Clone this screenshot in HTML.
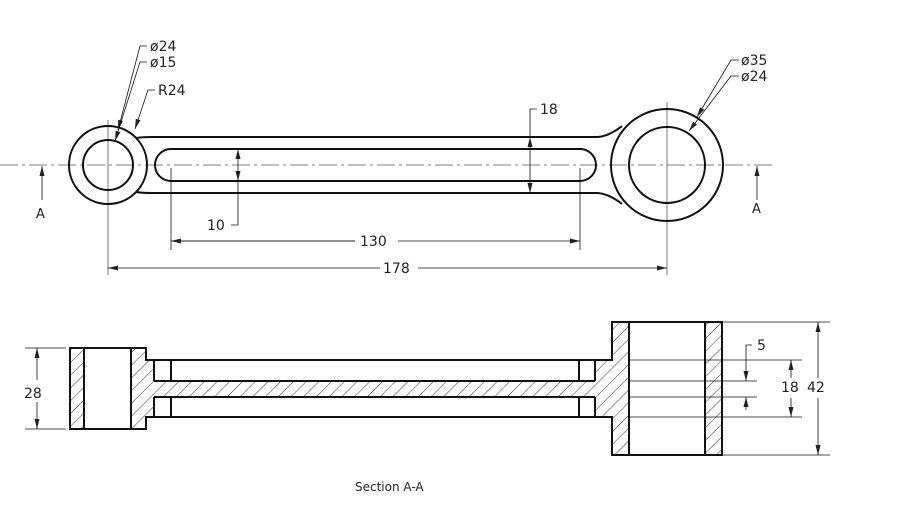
<!DOCTYPE html>
<html><head><meta charset="utf-8"><style>
html,body{margin:0;padding:0;background:#fff;}
svg{display:block;}
text{font-family:"DejaVu Sans","Liberation Sans",sans-serif;font-size:14px;fill:#222;}
</style></head><body>
<svg width="913" height="509" viewBox="0 0 913 509" xmlns="http://www.w3.org/2000/svg">
<defs>
<pattern id="h" patternUnits="userSpaceOnUse" width="9" height="9" patternTransform="rotate(45)">
<line x1="0" y1="0" x2="0" y2="9" stroke="#333" stroke-width="1"/>
</pattern>
<marker id="ar" markerWidth="10" markerHeight="6" refX="10" refY="3" orient="auto" markerUnits="userSpaceOnUse"><path d="M0,0.5 L10,3 L0,5.5 z" fill="#222"/></marker>
</defs>
<g fill="none" stroke="#111">
<!-- centerlines -->
<line x1="0" y1="165" x2="772" y2="165" stroke="#555" stroke-width="0.8" stroke-dasharray="18,4,3,4"/>
<line x1="108" y1="120" x2="108" y2="275" stroke="#555" stroke-width="0.8"/>
<line x1="667" y1="102" x2="667" y2="275" stroke="#555" stroke-width="0.8"/>
<!-- left boss -->
<circle cx="108" cy="165" r="39" stroke-width="2"/>
<circle cx="108" cy="165" r="25" stroke-width="2"/>
<!-- right boss -->
<circle cx="667" cy="165" r="56" stroke-width="2"/>
<circle cx="667" cy="165" r="38" stroke-width="2"/>
<!-- arm -->
<path d="M136,138 Q142,137 152,137 L596,137 Q608,137 622,126" stroke-width="2"/>
<path d="M136,192 Q142,193 152,193 L596,193 Q608,193 622,204" stroke-width="2"/>
<path d="M171,149 L580,149 A16,16 0 0 1 580,181 L171,181 A16,16 0 0 1 171,149 z" stroke-width="2"/>
<!-- extension lines -->
<line x1="171" y1="168" x2="171" y2="250" stroke-width="0.8"/>
<line x1="580" y1="168" x2="580" y2="250" stroke-width="0.8"/>
<!-- dims -->
<line x1="181" y1="241" x2="355" y2="241" stroke-width="0.8"/>
<line x1="355" y1="241" x2="171" y2="241" stroke-width="0.8" marker-end="url(#ar)"/>
<line x1="398" y1="241" x2="580" y2="241" stroke-width="0.8" marker-end="url(#ar)"/>
<line x1="380" y1="268" x2="108" y2="268" stroke-width="0.8" marker-end="url(#ar)"/>
<line x1="418" y1="268" x2="667" y2="268" stroke-width="0.8" marker-end="url(#ar)"/>
<!-- 10 -->
<line x1="238" y1="165" x2="238" y2="149" stroke-width="0.8" marker-end="url(#ar)"/>
<line x1="238" y1="165" x2="238" y2="181" stroke-width="0.8" marker-end="url(#ar)"/>
<polyline points="238,181 238,225 231,225" stroke-width="0.8"/>
<!-- 18 -->
<line x1="530" y1="165" x2="530" y2="137" stroke-width="0.8" marker-end="url(#ar)"/>
<line x1="530" y1="165" x2="530" y2="193" stroke-width="0.8" marker-end="url(#ar)"/>
<polyline points="530,137 530,109 537,109" stroke-width="0.8"/>
<!-- A arrows -->
<line x1="42" y1="200" x2="42" y2="166" stroke-width="0.8" marker-end="url(#ar)"/>
<line x1="757" y1="200" x2="757" y2="166" stroke-width="0.8" marker-end="url(#ar)"/>
<!-- leaders -->
<polyline points="147,46 140,46 118,130" stroke-width="0.8" marker-end="url(#ar)"/>
<polyline points="147,62 140,62 115,141" stroke-width="0.8" marker-end="url(#ar)"/>
<polyline points="155,90 148,90 135,129" stroke-width="0.8" marker-end="url(#ar)"/>
<polyline points="739,60 731,60 697,117" stroke-width="0.8" marker-end="url(#ar)"/>
<polyline points="739,76 731,76 689,131" stroke-width="0.8" marker-end="url(#ar)"/>

<!-- SECTION -->
<rect x="70" y="348" width="14" height="81" fill="url(#h)" stroke="none"/>
<path d="M131,348 L146,348 L146,360 L154,360 L154,381 L595,381 L595,360 L612,360 L612,322 L629,322 L629,455 L612,455 L612,417 L595,417 L595,397 L154,397 L154,417 L146,417 L146,429 L131,429 z" fill="url(#h)" stroke="none"/>
<rect x="705" y="322" width="17" height="133" fill="url(#h)" stroke="none"/>
<path d="M70,348 L146,348 L146,360 L154,360 L595,360 L612,360 L612,322 L722,322 L722,455 L612,455 L612,417 L154,417 L146,417 L146,429 L70,429 z" stroke-width="2"/>
<line x1="84" y1="348" x2="84" y2="429" stroke-width="2"/>
<line x1="131" y1="348" x2="131" y2="429" stroke-width="2"/>
<line x1="629" y1="322" x2="629" y2="455" stroke-width="2"/>
<line x1="705" y1="322" x2="705" y2="455" stroke-width="2"/>
<line x1="154" y1="381" x2="595" y2="381" stroke-width="2"/>
<line x1="154" y1="397" x2="595" y2="397" stroke-width="2"/>
<line x1="154" y1="360" x2="154" y2="381" stroke-width="2"/>
<line x1="154" y1="397" x2="154" y2="417" stroke-width="2"/>
<line x1="171" y1="360" x2="171" y2="381" stroke-width="2"/>
<line x1="171" y1="397" x2="171" y2="417" stroke-width="2"/>
<line x1="579" y1="360" x2="579" y2="381" stroke-width="2"/>
<line x1="579" y1="397" x2="579" y2="417" stroke-width="2"/>
<line x1="595" y1="360" x2="595" y2="381" stroke-width="2"/>
<line x1="595" y1="397" x2="595" y2="417" stroke-width="2"/>
<!-- section dims -->
<line x1="25" y1="348" x2="66" y2="348" stroke-width="0.8"/>
<line x1="25" y1="429" x2="66" y2="429" stroke-width="0.8"/>
<line x1="37" y1="380" x2="37" y2="348" stroke-width="0.8" marker-end="url(#ar)"/>
<line x1="37" y1="402" x2="37" y2="429" stroke-width="0.8" marker-end="url(#ar)"/>
<line x1="722" y1="322" x2="830" y2="322" stroke-width="0.8"/>
<line x1="722" y1="455" x2="830" y2="455" stroke-width="0.8"/>
<line x1="629" y1="360" x2="802" y2="360" stroke-width="0.8"/>
<line x1="629" y1="417" x2="802" y2="417" stroke-width="0.8"/>
<line x1="629" y1="381" x2="757" y2="381" stroke-width="0.8"/>
<line x1="629" y1="397" x2="757" y2="397" stroke-width="0.8"/>
<line x1="818" y1="378" x2="818" y2="322" stroke-width="0.8" marker-end="url(#ar)"/>
<line x1="818" y1="398" x2="818" y2="455" stroke-width="0.8" marker-end="url(#ar)"/>
<line x1="791" y1="378" x2="791" y2="360" stroke-width="0.8" marker-end="url(#ar)"/>
<line x1="791" y1="398" x2="791" y2="417" stroke-width="0.8" marker-end="url(#ar)"/>
<polyline points="752,345 746,345 746,381" stroke-width="0.8" marker-end="url(#ar)"/>
<line x1="746" y1="410" x2="746" y2="397" stroke-width="0.8" marker-end="url(#ar)"/>
</g>
<g>
<text x="150" y="51">ø24</text>
<text x="150" y="67">ø15</text>
<text x="158" y="95">R24</text>
<text x="741" y="65">ø35</text>
<text x="741" y="81">ø24</text>
<text x="540" y="114">18</text>
<text x="207" y="230">10</text>
<text x="360" y="246">130</text>
<text x="383" y="273">178</text>
<text x="36" y="218" style="font-size:13px">A</text>
<text x="752" y="213" style="font-size:13px">A</text>
<text x="24" y="398">28</text>
<text x="757" y="350">5</text>
<text x="781" y="392">18</text>
<text x="807" y="392">42</text>
<text x="355" y="491" style="font-size:12px">Section A-A</text>
</g>
</svg>
</body></html>
